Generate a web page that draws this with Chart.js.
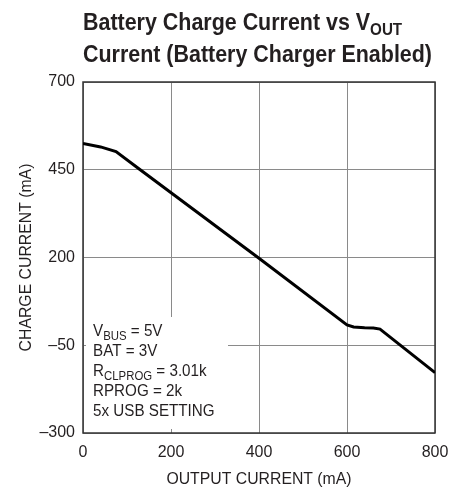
<!DOCTYPE html>
<html>
<head>
<meta charset="utf-8">
<script src="https://cdn.jsdelivr.net/npm/chart.js@4/dist/chart.umd.min.js"></script>
<style>
  html, body { margin: 0; padding: 0; background: #fff; }
  #wrap { position: relative; width: 467px; height: 491px; }
  canvas { position: absolute; left: 0; top: 0; }
  #title {
    position: absolute; left: 83px; top: 6px;
    font-family: "Liberation Sans", Arial, sans-serif;
    font-weight: bold; font-size: 24px; line-height: 32px;
    color: #231f20; white-space: nowrap; transform-origin: 0 0;
  }
  #title sub { font-size: 17px; vertical-align: -5px; line-height: 0; }
  #title div { display: inline-block; }
</style>
</head>
<body>
<div id="wrap">
  <canvas id="graf" width="467" height="491"></canvas>
  <div id="title">
    <div id="t1">Battery Charge Current vs V<sub>OUT</sub></div><br>
    <div id="t2">Current (Battery Charger Enabled)</div>
  </div>
</div>
<script>
// values (mA)
const outputCurrent = [0, 40, 75, 130, 400, 600, 615, 640, 660, 675, 800];
const chargeCurrent = [525, 515, 502, 450, 198, 8, 2, 0, -1, -4, -128];

const xTicks = [0, 200, 400, 600, 800];
const yTicks = [-300, -50, 200, 450, 700];

// test conditions: main text, subscript, rest
const notes = [
  ["V", "BUS", " = 5V"],
  ["BAT = 3V", "", ""],
  ["R", "CLPROG", " = 3.01k"],
  ["RPROG = 2k", "", ""],
  ["5x USB SETTING", "", ""]
];

const FONT = '"Liberation Sans", Arial, sans-serif';
const INK = "#231f20";

// squeeze the title to the plot width
const t2 = document.getElementById("t2");
const k = 349 / t2.getBoundingClientRect().width;
document.getElementById("title").style.transform = "scaleX(" + k + ")";

const frame = {
  id: "frame",
  beforeDatasetsDraw(chart) {
    const { ctx, chartArea: a } = chart;
    ctx.save();
    // white panel behind the notes hides the grid there
    ctx.fillStyle = "#fff";
    ctx.fillRect(a.left + 3, a.bottom - 116, 142, 112);
    ctx.strokeStyle = "#333";
    ctx.lineWidth = 1.5;
    ctx.strokeRect(a.left, a.top, a.right - a.left, a.bottom - a.top);
    ctx.restore();
  },
  afterDraw(chart) {
    const { ctx, chartArea: a } = chart;
    ctx.save();
    ctx.fillStyle = INK;
    ctx.textBaseline = "alphabetic";
    let y = a.bottom - 97;
    notes.forEach(n => {
      ctx.save();
      ctx.translate(a.left + 10, y);
      ctx.scale(0.95, 1);
      let x = 0;
      ctx.font = "16px " + FONT;
      ctx.fillText(n[0], x, 0);
      x += ctx.measureText(n[0]).width;
      if (n[1]) {
        ctx.font = "12px " + FONT;
        ctx.fillText(n[1], x, 4);
        x += ctx.measureText(n[1]).width;
      }
      ctx.font = "16px " + FONT;
      ctx.fillText(n[2], x, 0);
      ctx.restore();
      y += 20;
    });
    ctx.restore();
  }
};

const minus = v => (v < 0 ? "\u2013" + Math.abs(v) : String(v));

Chart.defaults.font.family = FONT;
Chart.defaults.color = INK;

new Chart(document.getElementById("graf").getContext("2d"), {
  type: "line",
  data: {
    datasets: [{
      data: outputCurrent.map((x, i) => ({ x: x, y: chargeCurrent[i] })),
      borderColor: "#000",
      borderWidth: 3,
      pointRadius: 0,
      tension: 0,
      fill: false
    }]
  },
  options: {
    responsive: false,
    animation: false,
    layout: { padding: { top: 82, right: 32, left: 0, bottom: 0 } },
    plugins: { legend: { display: false }, tooltip: { enabled: false } },
    scales: {
      x: {
        type: "linear", min: 0, max: 800,
        afterBuildTicks: s => { s.ticks = xTicks.map(v => ({ value: v })); },
        afterFit: s => { s.height = 58; },
        grid: { color: "#8a8a8a", lineWidth: 1, drawTicks: false },
        border: { display: false },
        ticks: { font: { size: 16 }, padding: 10, maxRotation: 0, callback: minus },
        title: { display: true, text: "OUTPUT CURRENT (mA)", font: { size: 15.8 }, padding: { top: 0, bottom: 2 } }
      },
      y: {
        type: "linear", min: -300, max: 700,
        afterBuildTicks: s => { s.ticks = yTicks.map(v => ({ value: v })); },
        afterFit: s => { s.width = 83; },
        grid: { color: "#8a8a8a", lineWidth: 1, drawTicks: false },
        border: { display: false },
        ticks: { font: { size: 16 }, padding: 8, callback: minus },
        title: { display: true, text: "CHARGE CURRENT (mA)", font: { size: 15.8 }, padding: { top: 17, bottom: 0 } }
      }
    }
  },
  plugins: [frame]
});
</script>
</body>
</html>
